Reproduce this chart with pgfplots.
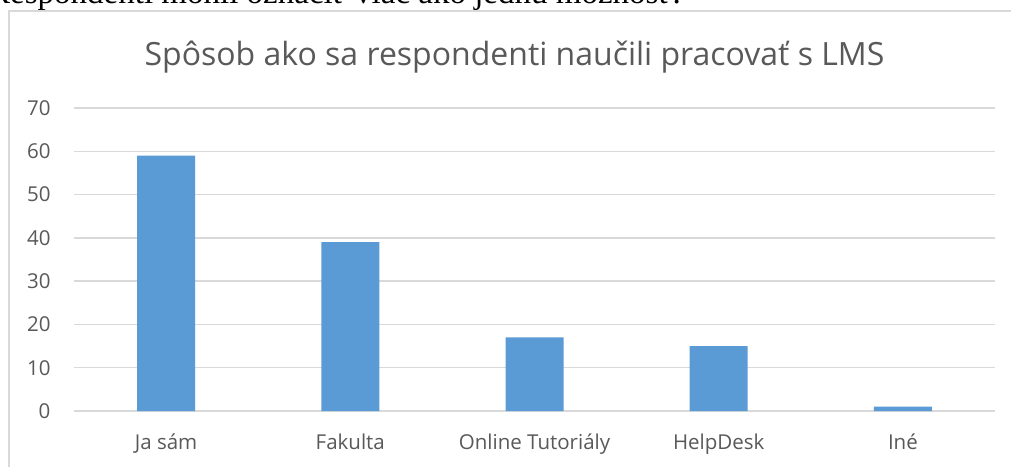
\documentclass[border=0pt]{standalone}
\usepackage{pgfplots}
\pgfplotsset{compat=1.18}
\usepackage{fontspec}
\setmainfont{Open Sans}
\newfontfamily\timesfont{Liberation Serif}
\definecolor{barblue}{HTML}{5B9BD5}
\definecolor{gridgray}{HTML}{D9D9D9}
\definecolor{txtgray}{HTML}{595959}
\begin{document}
\begin{tikzpicture}[x=1pt,y=1pt]
\path[use as bounding box, clip] (0,0) rectangle (1011,466);
\node[anchor=base west, inner sep=0, font=\timesfont\fontsize{33}{33}\selectfont] at (-12,462.5) {Respondenti mohli označiť viac ako jednu možnosť.};
\fill[white] (9,-10) rectangle (1030,455);
\draw[gridgray, line width=1.5pt] (9,-10) rectangle (1030,455);
\begin{axis}[
  at={(74pt,55pt)}, anchor=south west,
  scale only axis, width=921pt, height=303pt,
  xmin=-0.5, xmax=4.5, ymin=0, ymax=70,
  ytick={0,10,...,70},
  xtick={0,1,2,3,4},
  xticklabels={Ja sám, Fakulta, Online Tutoriály, HelpDesk, Iné},
  axis line style={draw=none},
  major tick length=0pt,
  ymajorgrids, grid style={gridgray, line width=1.5pt},
  tick label style={font=\fontsize{20.5}{20.5}\selectfont, text=txtgray},
  /pgf/number format/assume math mode=true,
  yticklabel style={xshift=-20pt},
  xticklabel style={yshift=-19pt},
  title={Spôsob ako sa respondenti naučili pracovať s LMS},
  title style={font=\fontsize{32}{32}\selectfont, text=txtgray, at={(0.5,1)}, anchor=base, yshift=37pt, xshift=-20pt},
  clip=false,
]
\addplot[ybar, bar width=58pt, fill=barblue, draw=none] coordinates {(0,59) (1,39) (2,17) (3,15) (4,1)};
\end{axis}
\end{tikzpicture}
\end{document}
